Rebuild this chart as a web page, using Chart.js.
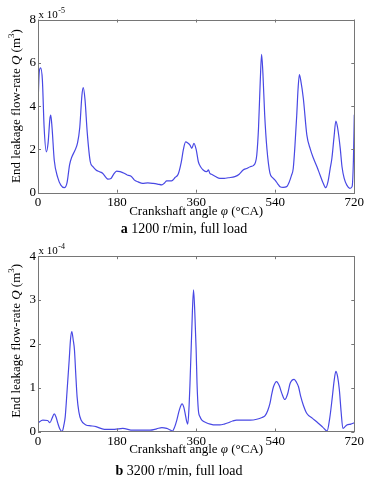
<!DOCTYPE html>
<html>
<head>
<meta charset="utf-8">
<script src="https://cdn.jsdelivr.net/npm/chart.js@4.4.1/dist/chart.umd.min.js"></script>
<style>
  body { margin: 0; background: #fff; }
  .panel { position: absolute; left: 0; width: 373px; }
</style>
</head>
<body>
<div class="panel" style="top:0;height:240px"><canvas id="chartA" width="373" height="240"></canvas></div>
<div class="panel" style="top:240px;height:242px"><canvas id="chartB" width="373" height="242"></canvas></div>
<script>
// Shared tick labels
const angleTicks = [0, 180, 360, 540, 720];

// (a) 1200 r/min, values in 1e-5 m^3
const anglesA = [0, 3, 6, 10, 14, 19, 23, 27, 29, 32, 37, 45, 52, 60, 66, 72, 77, 84, 90, 95,
  100, 103, 107, 112, 119, 125, 132, 140, 147, 155, 159, 166, 172, 179, 187, 196, 203, 210, 215, 219,
  228, 238, 250, 262, 272, 282, 288, 293, 304, 312, 319, 326, 331, 336, 341, 346, 350, 355, 360, 365,
  370, 376, 384, 388, 391, 395, 404, 414, 424, 433, 448, 458, 467, 475, 483, 490, 495, 498, 502, 506,
  509, 512, 516, 521, 528, 534, 541, 546, 551, 558, 566, 572, 577, 581, 585, 589, 592, 595, 598, 604,
  612, 620, 627, 635, 642, 649, 655, 660, 665, 669, 674, 678, 682, 688, 692, 697, 703, 710, 715, 718, 720];
const flowA = [4.05, 5.6, 5.77, 5.2, 3.0, 1.89, 2.3, 3.4, 3.59, 3.0, 1.5, 0.7, 0.35, 0.23, 0.45, 1.3, 1.65, 1.95, 2.3, 3.0,
  4.5, 4.85, 4.3, 2.8, 1.43, 1.2, 1.05, 0.97, 0.9, 0.7, 0.63, 0.66, 0.85, 1.0, 0.97, 0.9, 0.82, 0.78, 0.7, 0.59,
  0.5, 0.43, 0.45, 0.43, 0.4, 0.36, 0.45, 0.55, 0.55, 0.7, 0.85, 1.4, 2.0, 2.35, 2.3, 2.2, 2.05, 2.28, 2.0, 1.43,
  1.2, 1.05, 0.97, 1.05, 0.9, 0.85, 0.75, 0.66, 0.66, 0.69, 0.74, 0.85, 1.05, 1.12, 1.2, 1.25, 1.4, 1.74, 3.0, 5.2,
  6.39, 5.5, 3.6, 2.05, 0.9, 0.7, 0.55, 0.4, 0.28, 0.25, 0.28, 0.5, 0.8, 1.12, 2.2, 3.59, 4.8, 5.46, 5.2, 4.35,
  2.66, 2.0, 1.59, 1.2, 0.82, 0.45, 0.23, 0.5, 1.1, 1.59, 2.6, 3.31, 3.0, 2.05, 1.2, 0.66, 0.35, 0.2, 0.28, 1.5, 3.6];
const flowTicksA = [0, 2, 4, 6, 8];

// (b) 3200 r/min, values in 1e-4 m^3
const anglesB = [0, 11, 22, 27, 32, 37, 41, 45, 50, 55, 59, 62, 66, 71, 74, 77, 80, 83, 86, 89,
  93, 98, 109, 120, 132, 151, 174, 193, 216, 238, 255, 270, 282, 293, 300, 306, 311, 316, 322, 328,
  332, 335, 338, 341, 344, 346, 350, 354, 357, 360, 362, 365, 369, 373, 383, 392, 404, 414, 424, 433,
  443, 452, 483, 498, 510, 517, 523, 528, 532, 536, 543, 549, 555, 562, 568, 574, 583, 588, 593, 598,
  604, 612, 625, 638, 648, 658, 664, 670, 674, 678, 682, 686, 690, 694, 698, 703, 712, 720];
const flowB = [0.2, 0.26, 0.25, 0.2, 0.3, 0.4, 0.33, 0.19, 0.05, 0.0, 0.15, 0.34, 0.9, 1.63, 2.1, 2.28, 2.1, 1.86, 1.3, 0.79,
  0.45, 0.26, 0.15, 0.13, 0.11, 0.05, 0.05, 0.07, 0.03, 0.03, 0.03, 0.06, 0.09, 0.07, 0.04, 0.01, 0.1, 0.26, 0.5, 0.63,
  0.55, 0.41, 0.25, 0.17, 0.6, 1.1, 2.3, 3.23, 2.7, 1.86, 1.1, 0.49, 0.33, 0.26, 0.2, 0.17, 0.15, 0.15, 0.17, 0.2,
  0.24, 0.26, 0.26, 0.28, 0.32, 0.36, 0.48, 0.64, 0.85, 1.02, 1.14, 1.05, 0.87, 0.73, 0.85, 1.1, 1.19, 1.13, 1.02, 0.8,
  0.6, 0.41, 0.3, 0.19, 0.1, 0.01, 0.3, 0.79, 1.15, 1.37, 1.25, 0.95, 0.45, 0.07, 0.1, 0.15, 0.17, 0.2];
const flowTicksB = [0, 1, 2, 3, 4];

const SERIF = "'Liberation Serif', 'Times New Roman', serif";
const LINE_COLOR = 'rgb(72, 72, 228)';
const BOX_COLOR = '#767676';

// draw a run of text pieces with different fonts, centred on (cx, cy)
function drawPieces(ctx, pieces, cx, cy) {
    let total = 0;
    pieces.forEach(p => { ctx.font = p.font; total += ctx.measureText(p.text).width; });
    let x = cx - total / 2;
    ctx.textBaseline = 'middle';
    ctx.textAlign = 'left';
    pieces.forEach(p => {
        ctx.font = p.font;
        ctx.fillText(p.text, x, cy + (p.dy || 0));
        x += ctx.measureText(p.text).width;
    });
}

const matlabFrame = {
    id: 'matlabFrame',
    afterDraw(chart, args, opts) {
        const ctx = chart.ctx;
        const a = chart.chartArea;
        const xs = chart.scales.x;
        const ys = chart.scales.y;
        ctx.save();

        // box and inward ticks
        ctx.strokeStyle = BOX_COLOR;
        ctx.lineWidth = 1;
        ctx.strokeRect(Math.round(a.left) + 0.5, Math.round(a.top) + 0.5,
                       Math.round(a.right - a.left), Math.round(a.bottom - a.top));
        ctx.beginPath();
        angleTicks.forEach(v => {
            const px = Math.round(xs.getPixelForValue(v)) + 0.5;
            ctx.moveTo(px, a.bottom); ctx.lineTo(px, a.bottom - 3);
            ctx.moveTo(px, a.top); ctx.lineTo(px, a.top + 3);
        });
        opts.yTicks.forEach(v => {
            const py = Math.round(ys.getPixelForValue(v)) + 0.5;
            ctx.moveTo(a.left, py); ctx.lineTo(a.left + 3, py);
            ctx.moveTo(a.right, py); ctx.lineTo(a.right - 3, py);
        });
        ctx.stroke();

        ctx.fillStyle = '#000';

        // exponent label
        ctx.textBaseline = 'alphabetic';
        ctx.textAlign = 'left';
        ctx.font = `11px ${SERIF}`;
        ctx.fillText('x 10', a.left + 0.5, a.top - 2);
        const w = ctx.measureText('x 10').width;
        ctx.font = `8px ${SERIF}`;
        ctx.fillText(opts.exponent, a.left + 1 + w, a.top - 7);

        // y title
        ctx.save();
        ctx.translate(17, (a.top + a.bottom) / 2 + opts.yTitleShift);
        ctx.rotate(-Math.PI / 2);
        drawPieces(ctx, [
            { text: 'End leakage flow-rate ', font: `13px ${SERIF}` },
            { text: 'Q', font: `italic 13px ${SERIF}` },
            { text: ' (m', font: `13px ${SERIF}` },
            { text: '3', font: `9px ${SERIF}`, dy: -5 },
            { text: ')', font: `13px ${SERIF}` }
        ], 0, 0);
        ctx.restore();

        // x title
        const cx = (a.left + a.right) / 2;
        drawPieces(ctx, [
            { text: 'Crankshaft angle ', font: `13px ${SERIF}` },
            { text: 'φ', font: `italic 13px ${SERIF}` },
            { text: ' (°CA)', font: `13px ${SERIF}` }
        ], cx, a.bottom + opts.xTitleGap);

        // caption
        drawPieces(ctx, [
            { text: opts.tag, font: `bold 14px ${SERIF}` },
            { text: opts.caption, font: `14px ${SERIF}` }
        ], opts.captionX, opts.captionY);

        ctx.restore();
    }
};

const makeChart = (canvasId, angles, flow, yMax, yTicks, cfg) => {
    const points = angles.map((a, i) => ({ x: a, y: flow[i] }));
    return new Chart(document.getElementById(canvasId), {
        type: 'scatter',
        data: {
            datasets: [{
                data: points,
                showLine: true,
                borderColor: LINE_COLOR,
                borderWidth: 1.2,
                pointRadius: 0,
                tension: 0.4,
                cubicInterpolationMode: 'monotone'
            }]
        },
        options: {
            responsive: false,
            animation: false,
            layout: { padding: { top: cfg.padTop, right: 18.7, left: 0, bottom: 0 } },
            plugins: {
                legend: { display: false },
                tooltip: { enabled: false },
                matlabFrame: {
                    yTicks: yTicks,
                    exponent: cfg.exponent,
                    tag: cfg.tag,
                    caption: cfg.caption,
                    captionX: cfg.captionX,
                    captionY: cfg.captionY,
                    xTitleGap: cfg.xTitleGap,
                    yTitleShift: cfg.yTitleShift
                }
            },
            scales: {
                x: {
                    type: 'linear',
                    min: 0,
                    max: 720,
                    afterBuildTicks: scale => { scale.ticks = angleTicks.map(v => ({ value: v })); },
                    afterFit: scale => { scale.height = cfg.xHeight; },
                    grid: { display: false, drawTicks: false },
                    border: { display: false },
                    ticks: {
                        padding: 2,
                        maxRotation: 0,
                        color: '#000',
                        font: { family: SERIF, size: 13 }
                    }
                },
                y: {
                    min: 0,
                    max: yMax,
                    afterBuildTicks: scale => { scale.ticks = yTicks.map(v => ({ value: v })); },
                    afterFit: scale => { scale.width = 38; },
                    grid: { display: false, drawTicks: false },
                    border: { display: false },
                    ticks: {
                        padding: 2,
                        color: '#000',
                        font: { family: SERIF, size: 13 }
                    }
                }
            }
        },
        plugins: [matlabFrame]
    });
};

makeChart('chartA', anglesA, flowA, 8, flowTicksA, {
    padTop: 19.5, xHeight: 47.3, exponent: '-5',
    tag: 'a', caption: ' 1200 r/min, full load',
    captionX: 184, captionY: 229, xTitleGap: 18.5, yTitleShift: 0
});

makeChart('chartB', anglesB, flowB, 4, flowTicksB, {
    padTop: 16.2, xHeight: 50.5, exponent: '-4',
    tag: 'b', caption: ' 3200 r/min, full load',
    captionX: 179, captionY: 231, xTitleGap: 18, yTitleShift: -3
});
</script>
</body>
</html>
